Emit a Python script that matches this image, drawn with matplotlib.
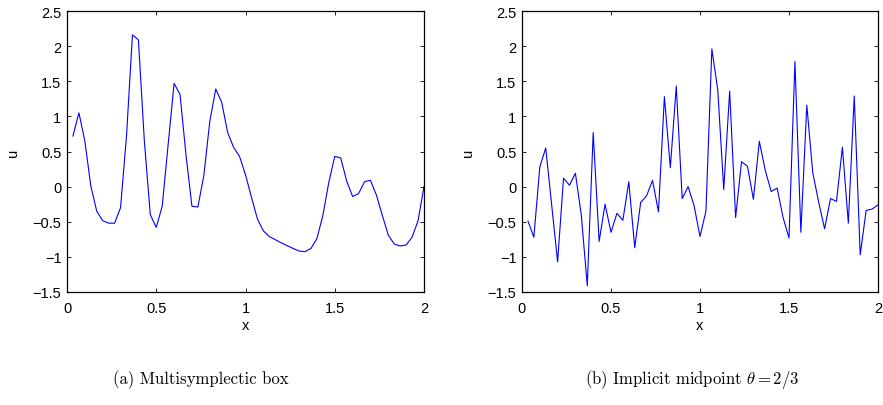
import numpy as np
import matplotlib
matplotlib.use("Agg")
import matplotlib.pyplot as plt
from matplotlib.ticker import FixedLocator, FixedFormatter

plt.rcParams['mathtext.fontset'] = 'cm'

# grid: x = k/30, k = 1..60
x_vals = [k / 30 for k in range(1, 61)]

u_box = [0.72, 1.05, 0.65, 0.01, -0.35, -0.485, -0.52, -0.52, -0.30, 0.72,
         2.16, 2.09, 0.65, -0.40, -0.58, -0.28, 0.60, 1.47, 1.31, 0.45,
         -0.28, -0.29, 0.16, 0.93, 1.39, 1.20, 0.77, 0.56, 0.43, 0.17,
         -0.15, -0.46, -0.63, -0.71, -0.755, -0.80, -0.84, -0.88, -0.916, -0.926,
         -0.88, -0.74, -0.41, 0.06, 0.43, 0.41, 0.08, -0.14, -0.10, 0.07,
         0.09, -0.12, -0.41, -0.69, -0.817, -0.845, -0.83, -0.72, -0.485, 0.0]

u_mid = [-0.49, -0.72, 0.28, 0.55, -0.26, -1.07, 0.12, 0.02, 0.19, -0.41,
         -1.41, 0.77, -0.78, -0.25, -0.65, -0.38, -0.48, 0.07, -0.87, -0.225,
         -0.13, 0.09, -0.36, 1.28, 0.27, 1.43, -0.17, 0.0, -0.27, -0.71,
         -0.35, 1.96, 1.37, -0.04, 1.36, -0.44, 0.355, 0.29, -0.18, 0.645,
         0.23, -0.07, -0.02, -0.44, -0.73, 1.78, -0.65, 1.16, 0.20, -0.22,
         -0.60, -0.17, -0.21, 0.56, -0.52, 1.29, -0.97, -0.34, -0.32, -0.26]

x_ticks = [0, 0.5, 1, 1.5, 2]
x_ticklabels = ["0", "0.5", "1", "1.5", "2"]
y_ticks = [-1.5, -1, -0.5, 0, 0.5, 1, 1.5, 2, 2.5]
y_ticklabels = ["\u22121.5", "\u22121", "\u22120.5", "0", "0.5", "1", "1.5", "2", "2.5"]

captions = ["(a) Multisymplectic box", r"(b) Implicit midpoint $\theta = 2/3$"]

W, H = 883, 406
fig = plt.figure(figsize=(W / 100, H / 100), dpi=100)

tickfont = dict(family=['Liberation Sans', 'DejaVu Sans'], size=10.5)

def make_ax(left_px, right_px, y):
    ax = fig.add_axes([left_px / W, 1 - 293 / H, (right_px - left_px) / W, (293 - 12) / H])
    ax.plot(x_vals, y, color=(0, 0, 1), lw=0.8)
    ax.set_xlim(0, 2)
    ax.set_ylim(-1.5, 2.5)
    ax.xaxis.set_major_locator(FixedLocator(x_ticks))
    ax.xaxis.set_major_formatter(FixedFormatter(x_ticklabels))
    ax.yaxis.set_major_locator(FixedLocator(y_ticks))
    ax.yaxis.set_major_formatter(FixedFormatter(y_ticklabels))
    ax.tick_params(direction='in', length=3, width=0.6, top=True, right=True)
    ax.tick_params(axis='x', pad=6.5)
    ax.tick_params(axis='y', pad=4)
    for lab in ax.get_xticklabels() + ax.get_yticklabels():
        lab.set_fontfamily(tickfont['family'])
        lab.set_fontsize(tickfont['size'])
    for s in ax.spines.values():
        s.set_linewidth(0.9)
    ax.set_xlabel("x", fontfamily=tickfont['family'], fontsize=10.5, labelpad=2)
    ax.set_ylabel("u", fontfamily=tickfont['family'], fontsize=10.5, labelpad=9)
    return ax

ax1 = make_ax(67, 424, u_box)
ax2 = make_ax(522, 878, u_mid)

fig.text(201 / W, 1 - 380 / H, captions[0], family='cmr10', fontsize=12, ha='center', va='center')
fig.text(692 / W, 1 - 380 / H, captions[1], family='cmr10', fontsize=12, ha='center', va='center')

fig.savefig("out.png", dpi=100)
